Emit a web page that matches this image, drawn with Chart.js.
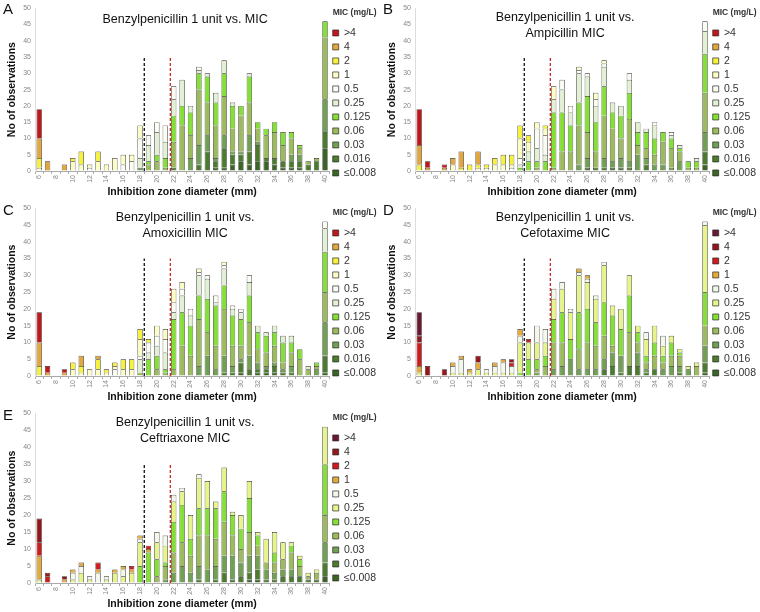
<!DOCTYPE html>
<html>
<head>
<meta charset="utf-8">
<script src="https://cdn.jsdelivr.net/npm/chart.js@4/dist/chart.umd.min.js"></script>
<style>
  html, body { margin: 0; padding: 0; background: #fff; }
  body { width: 760px; height: 612px; position: relative; overflow: hidden; font-family: "Liberation Sans", Arial, sans-serif; }
  .panel { position: absolute; }
  .letter { position: absolute; font-size: 15px; color: #111; }
</style>
</head>
<body>
<div class="panel" style="left:0;top:0;width:380px;height:200px"><canvas id="cA"></canvas></div>
<div class="panel" style="left:380px;top:0;width:380px;height:200px"><canvas id="cB"></canvas></div>
<div class="panel" style="left:0;top:200px;width:380px;height:205px"><canvas id="cC"></canvas></div>
<div class="panel" style="left:380px;top:200px;width:380px;height:205px"><canvas id="cD"></canvas></div>
<div class="panel" style="left:0;top:405px;width:380px;height:207px"><canvas id="cE"></canvas></div>
<div class="letter" style="left:3px;top:0px">A</div>
<div class="letter" style="left:383px;top:0px">B</div>
<div class="letter" style="left:3px;top:201px">C</div>
<div class="letter" style="left:383px;top:201px">D</div>
<div class="letter" style="left:3px;top:406px">E</div>
<script>
// inhibition zone diameters (mm)
var zones = [6,7,8,9,10,11,12,13,14,15,16,17,18,19,20,21,22,23,24,25,26,27,28,29,30,31,32,33,34,35,36,37,38,39,40];
// MIC levels, bottom of stack first
var micLevels = ['≤0.008','0.016','0.03','0.06','0.125','0.25','0.5','1','2','4','>4'];

// counts per MIC level (rows) per zone (columns), zones 6..40
var countsA = [
  [0,0,0,0,0, 0,0,0,0,0, 0,0,0,0,0, 0,0,0,0,0, 0,1,1,2,3, 2,3,3,2,1, 1,1,0,0,7],
  [0,0,0,0,0, 0,0,0,0,0, 0,0,0,0,0, 0,1,0,0,2, 6,2,6,3,2, 4,5,1,2,2, 2,2,2,3,5],
  [0,0,0,0,0, 0,0,0,0,0, 0,0,1,0,0, 0,0,0,4,6, 5,1,4,1,1, 5,1,0,0,0, 2,2,0,0,10],
  [0,0,0,0,0, 0,0,0,0,0, 0,0,0,2,3, 1,8,14,7,17, 10,10,12,7,11, 10,4,7,8,5, 5,2,1,1,19],
  [0,0,0,0,0, 0,0,0,0,0, 0,0,0,1,2, 3,8,6,7,5, 8,7,7,7,3, 8,2,2,3,4, 2,1,0,0,5],
  [0,0,0,0,0, 0,0,0,0,0, 0,0,3,5,7, 5,5,8,2,1, 1,3,4,1,0, 1,0,0,0,0, 0,0,0,0,0],
  [0,0,0,0,0, 0,1,0,0,0, 2,3,6,3,3, 5,4,0,0,1, 0,0,0,0,0, 0,0,0,0,0, 0,0,0,0,0],
  [1,0,0,0,3, 2,1,3,2,4, 3,2,4,0,0, 0,0,0,0,0, 0,0,0,0,0, 0,0,0,0,0, 0,0,0,0,0],
  [3,0,0,0,1, 4,0,3,0,0, 0,0,0,0,0, 0,0,0,0,0, 0,0,0,0,0, 0,0,0,0,0, 0,0,0,0,0],
  [6,3,0,2,0, 0,0,0,0,0, 0,0,0,0,0, 0,0,0,0,0, 0,0,0,0,0, 0,0,0,0,0, 0,0,0,0,0],
  [9,0,0,0,0, 0,0,0,0,0, 0,0,0,0,0, 0,0,0,0,0, 0,0,0,0,0, 0,0,0,0,0, 0,0,0,0,0]
];
var countsB = [
  [0,0,0,0,0, 0,0,0,0,0, 0,0,0,0,0, 0,0,0,0,0, 0,0,0,0,0, 0,0,0,0,0, 0,0,0,0,2],
  [0,0,0,0,0, 0,0,0,0,0, 0,0,0,0,0, 0,0,0,0,0, 1,1,1,1,1, 1,0,2,0,0, 0,0,0,0,4],
  [0,0,0,0,0, 0,0,0,0,0, 0,0,0,0,0, 0,0,0,0,2, 3,0,3,2,3, 2,5,2,2,2, 1,3,0,0,6],
  [0,0,0,0,0, 0,0,0,0,0, 0,0,0,0,1, 0,1,6,6,12, 8,5,13,10,6, 13,3,3,3,7, 6,3,1,1,12],
  [0,0,0,0,0, 0,0,0,0,0, 0,0,1,3,2, 3,17,12,8,7, 11,9,9,5,7, 8,4,5,5,3, 3,1,2,2,12],
  [0,0,0,0,0, 0,0,0,0,0, 0,0,1,3,4, 2,4,7,4,9, 6,5,6,3,3, 4,3,1,4,0, 1,1,0,1,7],
  [0,0,0,0,0, 0,0,0,0,0, 0,1,2,0,6, 6,0,3,2,1, 1,2,1,0,0, 2,0,0,1,0, 1,0,0,0,3],
  [0,0,0,0,2, 0,0,1,1,2, 2,1,6,3,2, 2,4,0,0,1, 0,2,1,0,0, 0,0,0,0,0, 0,0,0,0,0],
  [2,0,0,0,0, 1,2,1,1,2, 3,3,4,2,0, 1,0,0,0,0, 0,0,0,0,0, 0,0,0,0,0, 0,0,0,0,0],
  [6,1,0,1,2, 5,0,4,0,0, 0,0,0,0,0, 0,0,0,0,0, 0,0,0,0,0, 0,0,0,0,0, 0,0,0,0,0],
  [11,2,0,1,0, 0,0,0,0,0, 0,0,0,0,0, 0,0,0,0,0, 0,0,0,0,0, 0,0,0,0,0, 0,0,0,0,0]
];
var countsC = [
  [0,0,0,0,0, 0,0,0,0,0, 0,0,0,0,0, 0,0,0,0,0, 0,0,0,0,1, 0,1,1,1,0, 0,0,0,0,1],
  [0,0,0,0,0, 0,0,0,0,0, 0,0,0,0,0, 0,0,0,0,0, 0,0,1,1,3, 2,1,1,2,1, 1,0,0,0,5],
  [0,0,0,0,0, 0,0,0,0,0, 0,0,0,0,0, 0,0,0,0,3, 6,2,5,2,1, 4,2,1,1,1, 2,0,0,2,10],
  [0,0,0,0,0, 0,0,0,0,0, 0,0,1,0,2, 1,2,9,6,14, 7,7,14,6,4, 10,4,4,5,2, 4,5,2,1,9],
  [0,0,0,0,0, 0,0,0,0,0, 0,0,0,5,4, 1,15,10,9,7, 10,12,7,9,8, 8,5,5,4,6, 3,3,0,1,12],
  [0,0,0,0,0, 0,0,0,0,0, 0,0,4,2,3, 5,2,5,3,6, 6,1,5,2,2, 4,2,1,2,2, 2,0,1,0,7],
  [0,0,0,0,0, 0,0,0,0,2, 0,0,1,3,3, 4,3,2,2,1, 1,2,1,1,1, 2,0,0,0,0, 0,0,0,0,2],
  [0,0,0,0,2, 1,2,2,1,1, 2,2,5,0,3, 3,4,2,0,1, 0,0,1,0,0, 0,0,0,0,0, 0,0,0,0,0],
  [3,0,0,0,2, 2,0,3,1,1, 3,3,3,1,0, 0,0,0,0,0, 0,0,0,0,0, 0,0,0,0,0, 0,0,0,0,0],
  [7,1,0,1,0, 3,0,1,0,0, 0,0,0,0,0, 0,0,0,0,0, 0,0,0,0,0, 0,0,0,0,0, 0,0,0,0,0],
  [9,2,0,1,0, 0,0,0,0,0, 0,0,0,0,0, 0,0,0,0,0, 0,0,0,0,0, 0,0,0,0,0, 0,0,0,0,0]
];
var countsD = [
  [0,0,0,0,0, 0,0,0,0,0, 0,0,0,0,0, 0,0,0,0,0, 0,0,0,0,0, 0,0,0,0,0, 0,0,0,0,1],
  [0,0,0,0,0, 0,0,0,0,0, 0,0,0,0,0, 0,0,0,0,0, 0,0,2,3,1, 3,3,1,2,0, 0,1,0,0,3],
  [0,0,0,0,0, 0,0,0,0,0, 0,0,0,0,1, 0,2,3,5,2, 2,2,3,4,5, 0,4,1,0,2, 3,2,2,0,5],
  [0,0,0,0,0, 0,0,0,0,0, 0,0,0,0,1, 3,8,7,0,6, 8,7,7,2,0, 10,3,2,4,2, 3,3,0,3,6],
  [0,0,0,0,0, 0,0,0,0,0, 0,0,1,5,3, 3,7,9,6,11, 10,7,10,9,8, 11,3,2,4,2, 4,1,0,0,10],
  [1,0,0,0,1, 1,1,2,1,1, 1,1,9,5,5, 4,6,7,8,11, 8,7,11,3,6, 6,2,5,5,3, 2,1,1,1,20],
  [0,0,0,0,2, 4,0,0,1,2, 3,2,2,0,5, 4,3,2,1,1, 1,1,1,0,0, 0,0,2,0,3, 0,0,0,0,1],
  [2,0,0,0,1, 1,1,2,0,1, 1,0,2,0,0, 0,0,0,0,1, 1,0,0,0,0, 0,0,0,0,0, 0,0,0,0,0],
  [7,0,0,0,0, 0,0,0,0,0, 0,1,0,1,0, 0,0,0,0,0, 0,0,0,0,0, 0,0,0,0,0, 0,0,0,0,0],
  [2,3,0,2,0, 0,0,2,0,0, 0,1,0,0,0, 0,0,0,0,0, 0,0,0,0,0, 0,0,0,0,0, 0,0,0,0,0],
  [7,0,0,0,0, 0,0,0,0,0, 0,0,0,0,0, 0,0,0,0,0, 0,0,0,0,0, 0,0,0,0,0, 0,0,0,0,0]
];
var countsE = [
  [0,0,0,0,0, 0,0,0,0,0, 0,0,0,0,0, 0,0,0,0,0, 0,0,0,0,0, 1,1,0,0,0, 0,0,0,0,2],
  [0,0,0,0,0, 0,0,0,0,0, 0,0,0,0,0, 0,0,0,0,1, 0,1,3,1,2, 2,3,1,1,2, 2,2,1,1,4],
  [0,0,0,0,0, 0,0,0,0,0, 0,0,0,0,0, 1,3,5,3,4, 4,4,5,7,4, 5,4,3,2,2, 2,0,0,0,6],
  [0,0,0,0,0, 0,0,0,0,0, 0,0,0,0,2, 4,6,7,5,9, 10,8,10,6,4, 7,3,2,3,3, 5,3,1,2,8],
  [0,0,0,0,0, 0,0,0,0,0, 0,0,5,9,5, 1,9,11,5,8, 8,9,9,6,6, 10,3,0,3,0, 2,2,0,0,15],
  [1,0,0,0,1, 3,1,0,1,3, 2,3,7,0,5, 5,6,4,7,9, 8,2,7,1,4, 5,1,7,6,5, 1,1,1,1,11],
  [0,0,0,0,2, 2,1,3,1,0, 2,0,1,0,3, 3,2,1,0,1, 0,0,0,0,0, 0,0,0,0,0, 0,0,0,0,0],
  [7,0,0,1,1, 1,0,1,0,1, 1,1,1,1,0, 0,0,0,0,0, 0,0,0,0,0, 0,0,0,0,0, 0,0,0,0,0],
  [4,2,0,0,0, 0,0,2,0,0, 0,1,0,1,0, 0,0,0,0,0, 0,0,0,0,0, 0,0,0,0,0, 0,0,0,0,0],
  [7,1,0,1,0, 0,0,0,0,0, 0,0,0,0,0, 0,0,0,0,0, 0,0,0,0,0, 0,0,0,0,0, 0,0,0,0,0],
  [0,0,0,0,0, 0,0,0,0,0, 0,0,0,0,0, 0,0,0,0,0, 0,0,0,0,0, 0,0,0,0,0, 0,0,0,0,0]
];

// breakpoint lines (position in category index units, height in observations)
var breakBlack = 12.5;
var breakRed = 15.6;
var breakTop = 35;

var colorsPen = ['#3b6524','#4b7b2d','#70a052','#9cbb5a','#84e034','#e2f0d4','#fbfcf2','#fdfdc6','#f6f23c','#e2a63c','#c0161c'];
var colorsCeph = ['#3b6524','#4b7b2d','#70a052','#9cbb5a','#84e034','#e6f48a','#f3f9ea','#e2ab3c','#d01b1e','#96151b','#6a1930'];

var fontFam = '"Liberation Sans", Arial, sans-serif';

// trims the legend box so the plot gets a bit more room, like the original
var legendTrim = {
  id: 'legendTrim',
  beforeLayout: function(chart) {
    var lg = chart.legend;
    if (lg && !lg._trimmed) {
      var fit = lg.fit;
      lg.fit = function() { fit.call(this); this.width -= 6; };
      lg._trimmed = true;
    }
  }
};

function makePanel(id, counts, colors, titleLines) {
  var datasets = micLevels.map(function(m, i) {
    return {
      label: m,
      data: counts[i],
      backgroundColor: colors[i],
      borderColor: '#2b2b2b',
      borderWidth: 0.7,
      barPercentage: 0.64,
      categoryPercentage: 1
    };
  });

  var overlay = {
    id: 'overlay' + id,
    afterDatasetsDraw: function(chart) {
      var ctx = chart.ctx, x = chart.scales.x, y = chart.scales.y;
      var y0 = y.getPixelForValue(0), y1 = y.getPixelForValue(breakTop);
      ctx.save();
      ctx.setLineDash([3, 2]);
      ctx.lineWidth = 1.3;
      [[breakBlack, '#111'], [breakRed, '#d42a2a']].forEach(function(b) {
        var px = x.getPixelForValue(b[0]);
        ctx.strokeStyle = b[1];
        ctx.beginPath();
        ctx.moveTo(px, y0);
        ctx.lineTo(px, y1);
        ctx.stroke();
      });
      ctx.restore();
    },
    afterDraw: function(chart) {
      var ctx = chart.ctx, a = chart.chartArea;
      ctx.save();
      ctx.fillStyle = '#111';
      ctx.font = '12.5px ' + fontFam;
      ctx.textAlign = 'center';
      ctx.textBaseline = 'middle';
      var cx = (a.left + a.right) / 2 + 3;
      if (titleLines.length == 1) {
        ctx.fillText(titleLines[0], cx, a.top + 11);
      } else {
        ctx.fillText(titleLines[0], cx, a.top + 9);
        ctx.fillText(titleLines[1], cx, a.top + 25);
      }
      ctx.restore();
    }
  };

  return new Chart(document.getElementById(id), {
    type: 'bar',
    data: { labels: zones, datasets: datasets },
    plugins: [legendTrim, overlay],
    options: {
      responsive: true,
      maintainAspectRatio: false,
      animation: false,
      layout: { padding: { top: 6, right: 0, bottom: 2, left: 0 } },
      plugins: {
        tooltip: { enabled: false },
        legend: {
          position: 'right',
          align: 'start',
          reverse: true,
          title: {
            display: true,
            text: 'MIC (mg/L)',
            color: '#333',
            font: { family: fontFam, size: 8.5, weight: 'bold' },
            padding: { top: 2, bottom: 6 }
          },
          labels: {
            boxWidth: 6,
            boxHeight: 6,
            padding: 3.5,
            color: '#333',
            font: { family: fontFam, size: 10.5 }
          }
        }
      },
      scales: {
        x: {
          stacked: true,
          afterFit: function(s) { s.height = 27; },
          grid: { display: true, drawOnChartArea: false, tickLength: 3, color: '#aaa' },
          border: { color: '#aaa' },
          ticks: {
            autoSkip: false,
            minRotation: 90,
            maxRotation: 90,
            padding: 1,
            color: '#888',
            font: { family: fontFam, size: 7 },
            callback: function(v, i) { return zones[i] % 2 == 0 ? String(zones[i]) : ''; }
          },
          title: {
            display: true,
            text: 'Inhibition zone diameter (mm)',
            color: '#111',
            padding: 0,
            font: { family: fontFam, size: 10.5, weight: 'bold' }
          }
        },
        y: {
          stacked: true,
          min: 0,
          max: 50,
          afterFit: function(s) { s.width = 35; },
          grid: { display: true, drawOnChartArea: false, drawTicks: false, color: '#ddd' },
          border: { color: '#ddd' },
          ticks: {
            stepSize: 5,
            padding: 4,
            color: '#888',
            font: { family: fontFam, size: 7 }
          },
          title: {
            display: true,
            text: 'No of observations',
            color: '#111',
            padding: { top: 6, bottom: 0 },
            font: { family: fontFam, size: 10.5, weight: 'bold' }
          }
        }
      }
    }
  });
}

makePanel('cA', countsA, colorsPen, ['Benzylpenicillin 1 unit vs. MIC']);
makePanel('cB', countsB, colorsPen, ['Benzylpenicillin 1 unit vs.', 'Ampicillin MIC']);
makePanel('cC', countsC, colorsPen, ['Benzylpenicillin 1 unit vs.', 'Amoxicillin MIC']);
makePanel('cD', countsD, colorsCeph, ['Benzylpenicillin 1 unit vs.', 'Cefotaxime MIC']);
makePanel('cE', countsE, colorsCeph, ['Benzylpenicillin 1 unit vs.', 'Ceftriaxone MIC']);
</script>
</body>
</html>
